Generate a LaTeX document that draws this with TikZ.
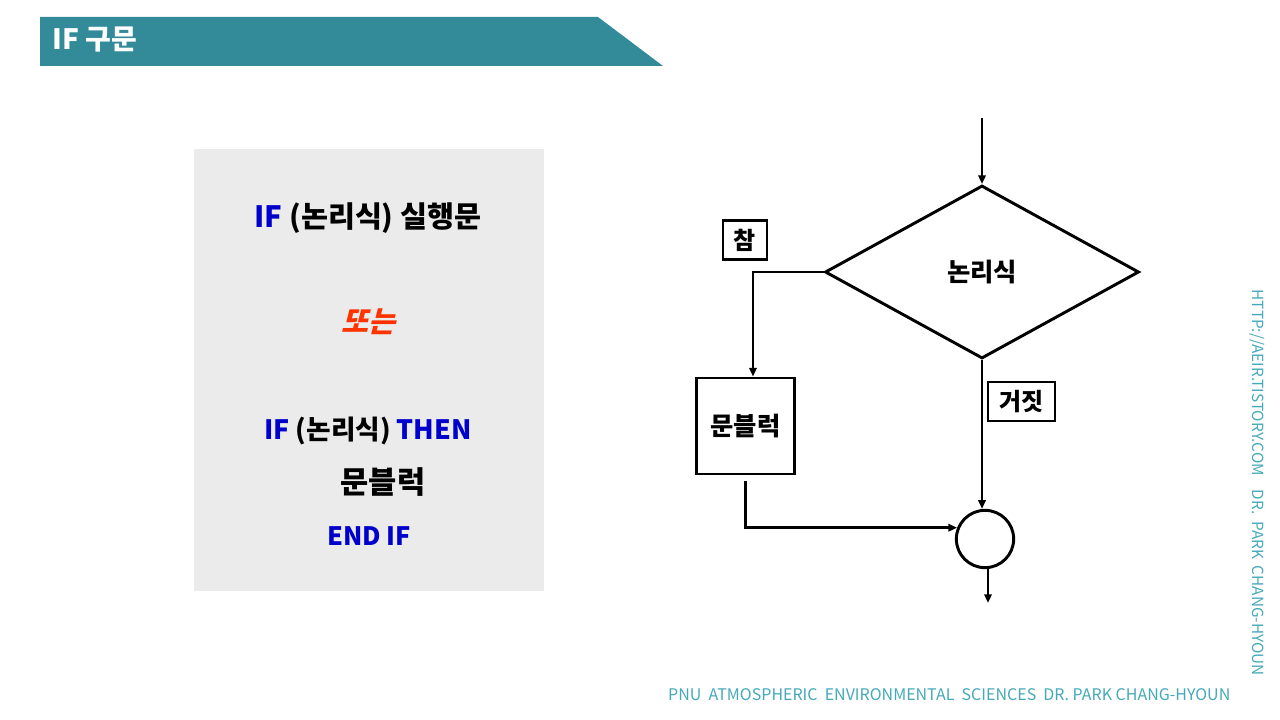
\documentclass[tikz,border=0pt]{standalone}
\usepackage{fontspec}
\setmainfont{Noto Sans CJK KR}
\newfontfamily\slantfont{Noto Sans CJK KR}[FakeSlant=0.25]
\usetikzlibrary{shapes.geometric,arrows.meta}

\begin{document}
\begin{tikzpicture}[x=0.75pt,y=-0.75pt,
    flow/.style={line width=2.2pt,-{Triangle[length=6.5pt,width=5.5pt]}},
    labelbox/.style={draw, line width=1.8pt, inner xsep=4pt, minimum height=29pt, font=\bfseries\fontsize{18}{20}\selectfont},
    codeline/.style={font=\bfseries\fontsize{20}{24}\selectfont}]
    \definecolor{bannerColour}{HTML}{338B99}
    \definecolor{panelColour}{HTML}{EBEBEB}
    \definecolor{keywordColour}{HTML}{0000CC}
    \definecolor{orColour}{HTML}{FF3300}
    \definecolor{footColour}{HTML}{45A9BA}

    \useasboundingbox (0,0) rectangle (1280,720);

    % Draw title banner
    \fill[bannerColour] (40,17) -- (598,17) -- (663,66) -- (40,66) -- cycle;
    \node[anchor=west, text=white, font=\bfseries\fontsize{21}{24}\selectfont] (title) at (48,40) {IF 구문};

    % Draw code panel
    \fill[panelColour] (194,149) rectangle (544,591);
    \node[codeline, font=\bfseries\fontsize{22}{26}\selectfont] (simple) at (368,218) {{\color{keywordColour}IF} (논리식) 실행문};
    \node[codeline, text=orColour, font=\slantfont\bfseries\fontsize{22}{26}\selectfont] (or) at (368,322) {또는};
    \node[codeline] (blockif) at (368,431) {{\color{keywordColour}IF} (논리식) {\color{keywordColour}THEN}};
    \node[codeline, font=\bfseries\fontsize{23}{26}\selectfont] (stmts) at (383,482) {문블럭};
    \node[codeline, text=keywordColour, font=\bfseries\fontsize{19}{22}\selectfont] (endif) at (369,536) {END IF};

    % Draw flowchart nodes
    \node[diamond, draw, line width=2.2pt, inner sep=0pt, minimum width=235.5pt, minimum height=129.75pt,
          font=\bfseries\fontsize{19}{21}\selectfont] (cond) at (982,272) {논리식};
    \node[draw, line width=2.2pt, minimum width=74pt, minimum height=72pt,
          font=\bfseries\fontsize{19}{21}\selectfont] (block) at (745.5,426) {문블럭};
    \node[circle, draw, line width=2.2pt, minimum size=43pt, inner sep=0pt] (merge) at (985,539) {};
    \node[labelbox, minimum width=33pt] (true) at (745,240) {참};
    \node[labelbox, minimum width=50pt] (false) at (1021.5,401.5) {거짓};
    \coordinate (start) at (982,118);
    \coordinate (end) at (988,603);

    % Draw connectors
    \draw[flow] (start) -- (cond.north);
    \draw[flow] (cond.west) -| ([xshift=5.6pt]block.north);
    \draw[flow] (cond.south) -- (cond.south |- merge.north);
    \draw[flow] ([yshift=-4.5pt]block.south) |- (merge.158);
    \draw[flow] (merge.south -| end) -- (end);

    % Draw footer texts
    \node[text=footColour, font=\fontsize{12}{14}\selectfont, anchor=east] (footer) at (1235,695)
        {PNU\ \ ATMOSPHERIC\ \ ENVIRONMENTAL\ \ SCIENCES\ \ DR.\ PARK\ CHANG-HYOUN};
    \node[text=footColour, font=\fontsize{11.5}{13}\selectfont, rotate=-90, anchor=west] (side) at (1257,285)
        {HTTP://AEIR.TISTORY.COM\ \ \ \ DR.\ \ PARK\ \ CHANG-HYOUN};

\end{tikzpicture}
\end{document}
